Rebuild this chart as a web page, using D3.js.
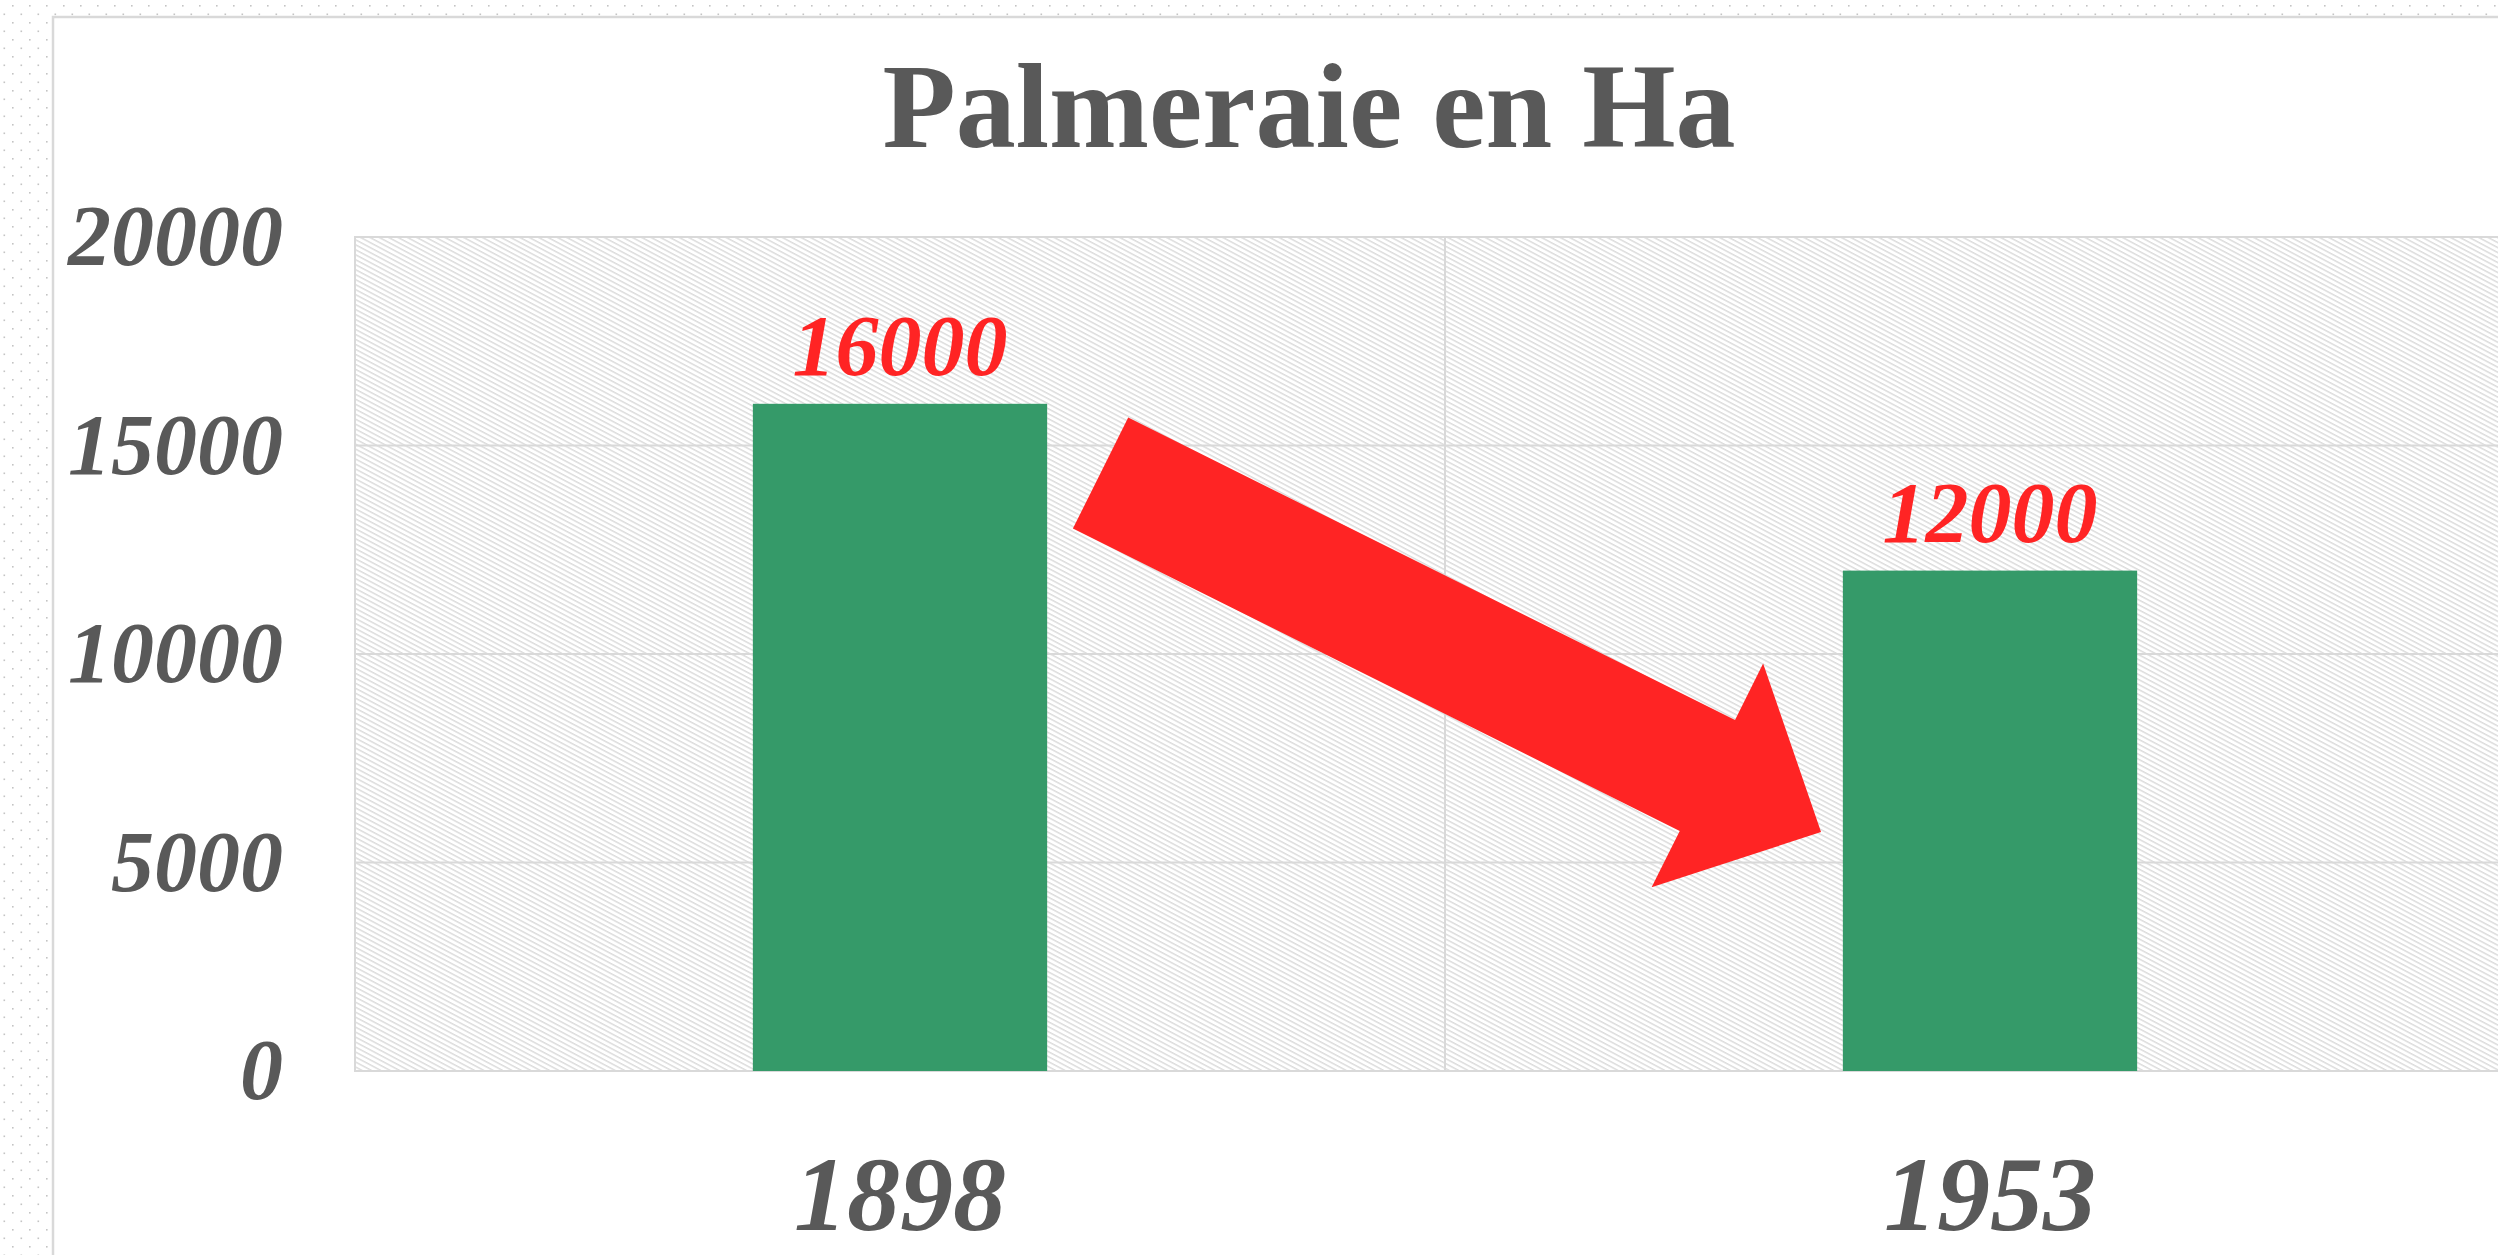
<!DOCTYPE html>
<html>
<head>
<meta charset="utf-8">
<script src="https://d3js.org/d3.v7.min.js"></script>
<style>
  html, body { margin: 0; padding: 0; background: #fff; overflow: hidden; }
  text { font-family: "Liberation Serif", "Times New Roman", serif; }
</style>
</head>
<body>
<div class="chart"></div>
<script>
// data
const years = ["1898", "1953"];
const surfaces = [16000, 12000];
const yTicks = [0, 5000, 10000, 15000, 20000];
const title = "Palmeraie en Ha";

// arrow annotation, position in category index / value units
const arrowFrom = { pos: 0.184, value: 14340 };
const arrowTo = { pos: 0.845, value: 5730 };

const width = 2498, height = 1255;
const plot = { left: 355, top: 237, right: 2535, bottom: 1071 };

const svg = d3.select(".chart").append("svg")
    .attr("width", width)
    .attr("height", height);

const defs = svg.append("defs");

// dotted page background
const dots = defs.append("pattern")
    .attr("id", "dots")
    .attr("patternUnits", "userSpaceOnUse")
    .attr("width", 17)
    .attr("height", 17);
dots.append("rect").attr("x", 12).attr("y", 5).attr("width", 1.6).attr("height", 1.6).attr("fill", "#c4c4c4");
dots.append("rect").attr("x", 3.5).attr("y", 13.5).attr("width", 1.6).attr("height", 1.6).attr("fill", "#c4c4c4");

// diagonal hatch for the plot area
const hatch = defs.append("pattern")
    .attr("id", "hatch")
    .attr("patternUnits", "userSpaceOnUse")
    .attr("width", 8)
    .attr("height", 4.4)
    .attr("patternTransform", "rotate(28)");
hatch.append("rect").attr("width", 8).attr("height", 4.4).attr("fill", "#fff");
hatch.append("rect").attr("width", 8).attr("height", 1.5).attr("fill", "#dcdcdc");

svg.append("rect")
    .attr("width", width).attr("height", height)
    .attr("fill", "url(#dots)");

// chart area
svg.append("rect")
    .attr("x", 53).attr("y", 17)
    .attr("width", 2600).attr("height", 1400)
    .attr("fill", "#fff")
    .attr("stroke", "#d9d9d9")
    .attr("stroke-width", 2.5);

// scales
const x0 = d3.scaleBand().domain(years).range([plot.left, plot.right]).padding(0);
const x = d3.scaleBand().domain(years).range([plot.left, plot.right])
    .paddingInner(0.73).paddingOuter(0.365);
const xPos = d3.scaleLinear().domain([0, 1])
    .range([x0(years[0]) + x0.bandwidth() / 2, x0(years[1]) + x0.bandwidth() / 2]);
const y = d3.scaleLinear().domain([0, 20000]).range([plot.bottom, plot.top]);

// plot area
svg.append("rect")
    .attr("x", plot.left).attr("y", plot.top)
    .attr("width", plot.right - plot.left).attr("height", plot.bottom - plot.top)
    .attr("fill", "url(#hatch)")
    .attr("stroke", "#d9d9d9")
    .attr("stroke-width", 2);

// grid
svg.append("g")
    .attr("class", "grid")
    .selectAll("line.h")
    .data(yTicks)
    .enter().append("line")
    .attr("x1", plot.left).attr("x2", plot.right)
    .attr("y1", d => y(d)).attr("y2", d => y(d))
    .attr("stroke", "#d9d9d9")
    .attr("stroke-width", 2);

svg.append("g")
    .selectAll("line")
    .data(years.slice(1))
    .enter().append("line")
    .attr("x1", d => x0(d)).attr("x2", d => x0(d))
    .attr("y1", plot.top).attr("y2", plot.bottom)
    .attr("stroke", "#d9d9d9")
    .attr("stroke-width", 2);

// y axis labels
const yAxis = svg.append("g")
    .attr("transform", `translate(${plot.left},0)`)
    .call(d3.axisLeft(y).tickValues(yTicks).tickSize(0).tickPadding(72).tickFormat(d3.format("d")));
yAxis.select(".domain").remove();
yAxis.selectAll("text")
    .attr("dy", "0.32em")
    .attr("fill", "#595959")
    .style("font-family", "'Liberation Serif', serif")
    .style("font-size", "86px")
    .style("font-weight", "bold")
    .style("font-style", "italic");

// x axis labels
const xAxis = svg.append("g")
    .attr("transform", `translate(0,${plot.bottom})`)
    .call(d3.axisBottom(x0).tickSize(0).tickPadding(0));
xAxis.select(".domain").remove();
xAxis.selectAll("text")
    .attr("y", 159)
    .attr("dy", 0)
    .attr("fill", "#595959")
    .style("font-family", "'Liberation Serif', serif")
    .style("font-size", "106px")
    .style("font-weight", "bold")
    .style("font-style", "italic");

// bars
const data = years.map((d, i) => ({ year: d, value: surfaces[i] }));

svg.append("g")
    .selectAll("rect")
    .data(data)
    .enter().append("rect")
    .attr("x", d => x(d.year))
    .attr("y", d => y(d.value))
    .attr("width", x.bandwidth())
    .attr("height", d => y(0) - y(d.value))
    .attr("fill", "#359a69");

// value labels
svg.append("g")
    .selectAll("text")
    .data(data)
    .enter().append("text")
    .attr("x", d => x(d.year) + x.bandwidth() / 2)
    .attr("y", d => y(d.value) - 29)
    .attr("text-anchor", "middle")
    .attr("fill", "#ff2424")
    .style("font-size", "86px")
    .style("font-weight", "bold")
    .style("font-style", "italic")
    .text(d => d.value);

// arrow
const shaftHalf = 62, headHalf = 125, headLen = 127;
const tail = [xPos(arrowFrom.pos), y(arrowFrom.value)];
const tip = [xPos(arrowTo.pos), y(arrowTo.value)];
const dx = tip[0] - tail[0], dy = tip[1] - tail[1];
const len = Math.hypot(dx, dy);
const ux = dx / len, uy = dy / len;
const nx = -uy, ny = ux;
const base = [tip[0] - ux * headLen, tip[1] - uy * headLen];
const arrowPts = [
    [tail[0] - nx * shaftHalf, tail[1] - ny * shaftHalf],
    [base[0] - nx * shaftHalf, base[1] - ny * shaftHalf],
    [base[0] - nx * headHalf, base[1] - ny * headHalf],
    tip,
    [base[0] + nx * headHalf, base[1] + ny * headHalf],
    [base[0] + nx * shaftHalf, base[1] + ny * shaftHalf],
    [tail[0] + nx * shaftHalf, tail[1] + ny * shaftHalf]
];
svg.append("path")
    .attr("d", d3.line()(arrowPts) + "Z")
    .attr("fill", "#ff2424");

// title
svg.append("text")
    .attr("x", 1309)
    .attr("y", 147)
    .attr("text-anchor", "middle")
    .attr("fill", "#595959")
    .style("font-size", "120px")
    .style("font-weight", "bold")
    .text(title);
</script>
</body>
</html>
